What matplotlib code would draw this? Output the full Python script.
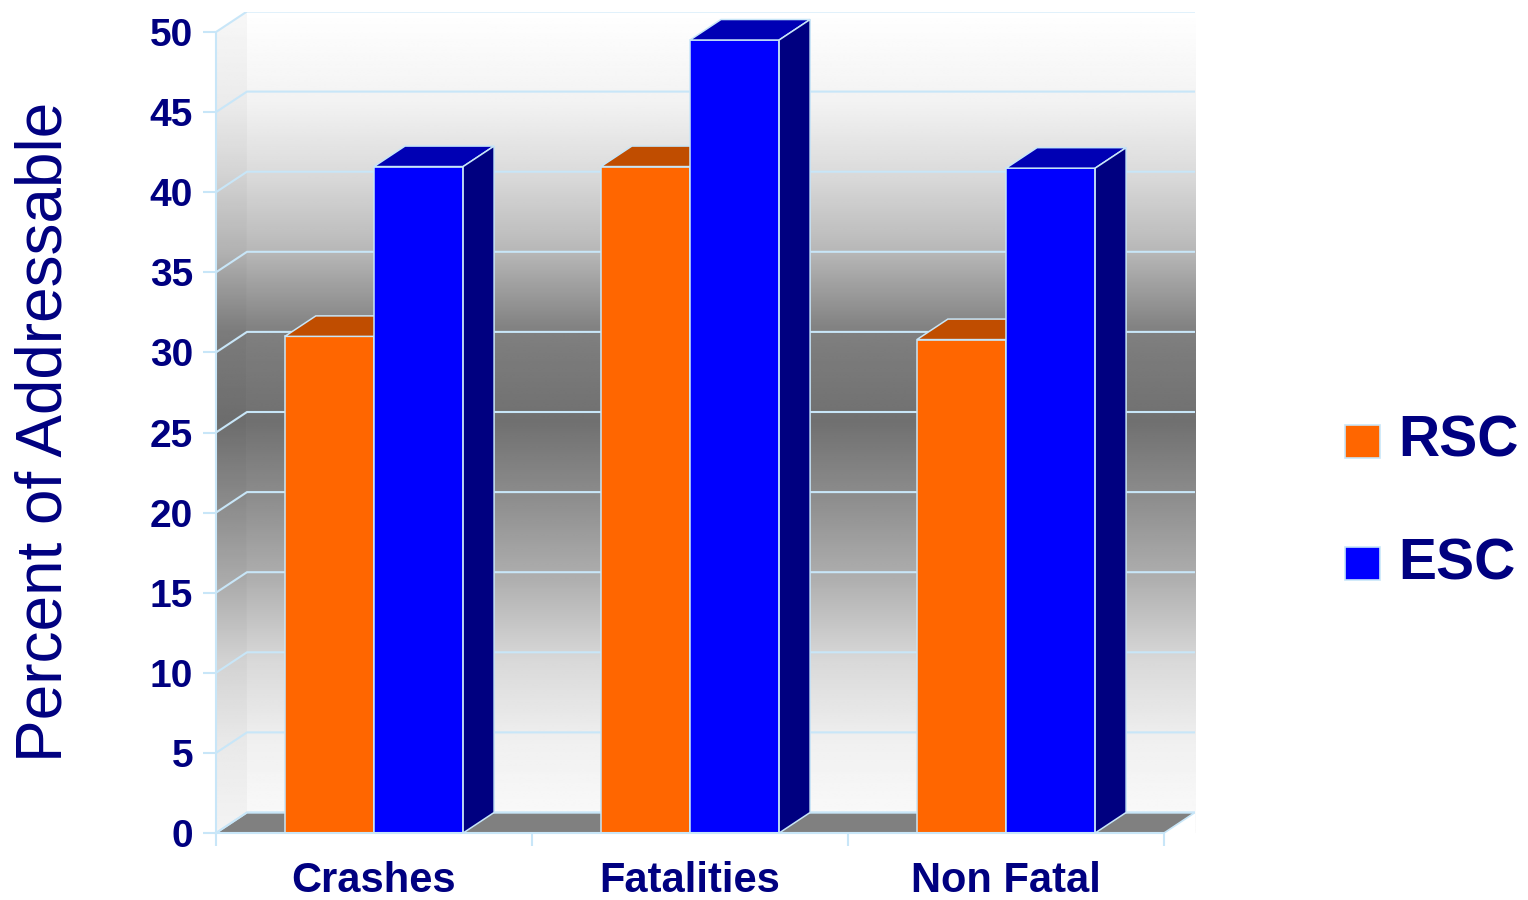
import matplotlib.pyplot as plt
import numpy as np
from matplotlib.patches import Polygon, Rectangle

plt.rcParams['font.family'] = ['Liberation Sans', 'DejaVu Sans']

categories = ['Crashes', 'Fatalities', 'Non Fatal']
rsc = [31.0, 41.6, 30.8]
esc = [41.6, 49.5, 41.5]
series = ['RSC', 'ESC']

navy = '#000080'
edge = '#c8e6f8'
front = {'RSC': '#ff6600', 'ESC': '#0000ff'}
top = {'RSC': '#c04d00', 'ESC': '#0000b4'}
side = {'RSC': '#8a3700', 'ESC': '#000080'}

# depth of the fake 3d (data units)
DX = 0.098
DY = 1.28
W = 0.282

fig = plt.figure(figsize=(15.28, 9), dpi=100)
ax = fig.add_axes([216 / 1528, 67 / 900, 979 / 1528, 821.5 / 900])
ax.set_xlim(0, 3 + DX)
ax.set_ylim(0, 50 + DY)
ax.set_facecolor('white')

# back wall gradient (white - dark grey - white)
gv = [0, 2, 5.7, 10.7, 15.7, 20.7, 25.7, 31.3, 36.3, 41.3, 45.6, 51.3]
gl = [0.98, 0.97, 0.94, 0.85, 0.69, 0.56, 0.44, 0.50, 0.72, 0.86, 0.95, 1.0]
ys = np.linspace(0, 50 + DY, 400)
shade = np.interp(ys, gv, gl)
img = np.repeat(shade[:, None], 2, axis=1)
ax.imshow(img, cmap='gray', vmin=0, vmax=1, origin='lower', aspect='auto',
          extent=[DX, 3 + DX, 0, 50 + DY], interpolation='bilinear', zorder=0)
wall = ax.imshow(img * 0.97, cmap='gray', vmin=0, vmax=1, origin='lower', aspect='auto',
                 extent=[0, DX, 0, 50 + DY], interpolation='bilinear', zorder=0)
clip = Polygon([(0, 0), (DX, DY), (DX, 50 + DY), (0, 50)], closed=True,
               transform=ax.transData, facecolor='none', edgecolor='none')
ax.add_patch(clip)
wall.set_clip_path(clip)
# blank out the area under the back wall bottom to the right of the floor
ax.add_patch(Polygon([(DX, 0), (3 + DX, 0), (3 + DX, DY), (DX, DY)], closed=True,
                     facecolor='white', edgecolor='none', zorder=0.5))
ax.add_patch(Polygon([(0, 50), (DX, 50 + DY), (0, 50 + DY)], closed=True,
                     facecolor='white', edgecolor='none', zorder=0.5))

# floor
ax.add_patch(Polygon([(0, 0), (3, 0), (3 + DX, DY), (DX, DY)], closed=True,
                     facecolor='#808080', edgecolor=edge, lw=1.2, zorder=1))

# gridlines
for v in range(0, 55, 5):
    ax.plot([0, DX, 3 + DX], [v, v + DY, v + DY], color=edge, lw=1.5, zorder=1.5)


def bar3d(x0, h, name):
    x1 = x0 + W
    ax.add_patch(Polygon([(x0, 0), (x1, 0), (x1, h), (x0, h)], closed=True,
                         facecolor=front[name], edgecolor=edge, lw=1.1, zorder=3))
    ax.add_patch(Polygon([(x0, h), (x1, h), (x1 + DX, h + DY), (x0 + DX, h + DY)], closed=True,
                         facecolor=top[name], edgecolor=edge, lw=1.1, zorder=3))
    ax.add_patch(Polygon([(x1, 0), (x1 + DX, DY), (x1 + DX, h + DY), (x1, h)], closed=True,
                         facecolor=side[name], edgecolor=edge, lw=1.1, zorder=3))


for i in range(len(categories)):
    c = i + 0.5
    bar3d(c - W, rsc[i], 'RSC')
    bar3d(c, esc[i], 'ESC')

# axes styling
for s in ['top', 'right']:
    ax.spines[s].set_visible(False)
ax.spines['left'].set_bounds(0, 50)
ax.spines['bottom'].set_bounds(0, 3)
ax.spines['left'].set_color(edge)
ax.spines['bottom'].set_color(edge)
ax.spines['left'].set_linewidth(1.5)
ax.spines['bottom'].set_linewidth(1.5)
ax.spines['left'].set_zorder(4)
ax.spines['bottom'].set_zorder(4)

ax.set_yticks(range(0, 55, 5))
ax.set_yticklabels([str(v) for v in range(0, 55, 5)], fontsize=28, fontweight='bold', color=navy)
ax.tick_params(axis='y', length=9.5, width=1.5, color=edge, pad=7)

ax.set_xticks([0, 1, 2, 3])
ax.set_xticklabels([])
ax.tick_params(axis='x', which='major', length=9, width=1.5, color=edge)
ax.set_xticks([0.5, 1.5, 2.5], minor=True)
ax.set_xticklabels(categories, minor=True, fontsize=30, fontweight='bold', color=navy)
ax.tick_params(axis='x', which='minor', length=0, pad=20)

fig.text(45 / 1528, 1 - 432 / 900, 'Percent of Addressable', rotation=90,
         ha='center', va='center', fontsize=46, color=navy)

# legend
for j, name in enumerate(series):
    ytop = 425 + j * 122
    fig.patches.append(Rectangle((1345 / 1528, 1 - (ytop + 33) / 900), 35 / 1528, 33 / 900,
                                 transform=fig.transFigure, facecolor=front[name],
                                 edgecolor=edge, lw=1.2))
    fig.text(1398 / 1528, 1 - (ytop + 17) / 900, name, ha='left', va='center',
             fontsize=41, fontweight='bold', color=navy)

fig.savefig('out.png', dpi=100)
